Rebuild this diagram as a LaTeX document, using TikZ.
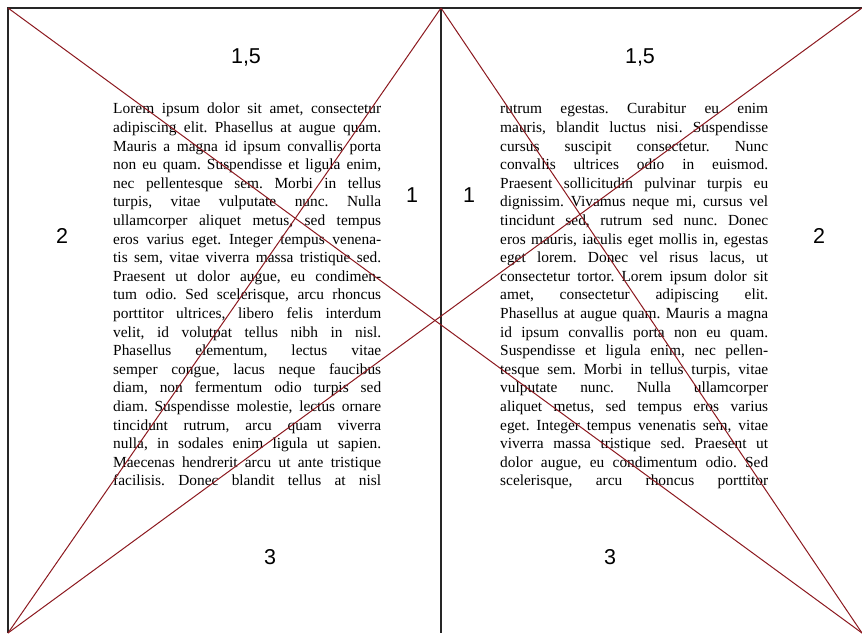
\documentclass[tikz,border=0pt]{standalone}
\usepackage{fontspec}
\setmainfont{Liberation Serif}
\setsansfont{Liberation Sans}
\usetikzlibrary{calc}
\definecolor{darkred}{rgb}{0.55,0.1,0.12}
\newcommand{\jline}[1]{\makebox[268pt][s]{#1}}
\frenchspacing
\begin{document}
\begin{tikzpicture}[x=1pt,y=-1pt,
    frame/.style={line width=1.5pt, draw=black!85},
    diag/.style={line width=1pt, draw=darkred},
    textblock/.style={inner sep=0pt, align=left, anchor=north west,
      font=\fontsize{15.4}{18.6}\selectfont},
    marginnum/.style={inner sep=0pt, font=\sffamily\fontsize{21.5}{21.5}\selectfont}]
    \useasboundingbox (0,0) rectangle (862,633);
    % Define points
    \coordinate (TL) at (8,8);
    \coordinate (TS) at (441,8);
    \coordinate (TR) at (862,8);
    \coordinate (BL) at (8,633);
    \coordinate (BS) at (441,633);
    \coordinate (BR) at (862,633);
    % Pages
    \draw[frame] (BL) -- (TL) -- (TR);
    \draw[frame] (TS) -- (BS);
    % Text blocks
    \node[textblock] (leftblock) at (113,103) {%
      \jline{Lorem ipsum dolor sit amet, consectetur}\\
      \jline{adipiscing elit. Phasellus at augue quam.}\\
      \jline{Mauris a magna id ipsum convallis porta}\\
      \jline{non eu quam. Suspendisse et ligula enim,}\\
      \jline{nec pellentesque sem. Morbi in tellus}\\
      \jline{turpis, vitae vulputate nunc. Nulla}\\
      \jline{ullamcorper aliquet metus, sed tempus}\\
      \jline{eros varius eget. Integer tempus venena-}\\
      \jline{tis sem, vitae viverra massa tristique sed.}\\
      \jline{Praesent ut dolor augue, eu condimen-}\\
      \jline{tum odio. Sed scelerisque, arcu rhoncus}\\
      \jline{porttitor ultrices, libero felis interdum}\\
      \jline{velit, id volutpat tellus nibh in nisl.}\\
      \jline{Phasellus elementum, lectus vitae}\\
      \jline{semper congue, lacus neque faucibus}\\
      \jline{diam, non fermentum odio turpis sed}\\
      \jline{diam. Suspendisse molestie, lectus ornare}\\
      \jline{tincidunt rutrum, arcu quam viverra}\\
      \jline{nulla, in sodales enim ligula ut sapien.}\\
      \jline{Maecenas hendrerit arcu ut ante tristique}\\
      \jline{facilisis. Donec blandit tellus at nisl}};
    \node[textblock] (rightblock) at (500,103) {%
      \jline{rutrum egestas. Curabitur eu enim}\\
      \jline{mauris, blandit luctus nisi. Suspendisse}\\
      \jline{cursus suscipit consectetur. Nunc}\\
      \jline{convallis ultrices odio in euismod.}\\
      \jline{Praesent sollicitudin pulvinar turpis eu}\\
      \jline{dignissim. Vivamus neque mi, cursus vel}\\
      \jline{tincidunt sed, rutrum sed nunc. Donec}\\
      \jline{eros mauris, iaculis eget mollis in, egestas}\\
      \jline{eget lorem. Donec vel risus lacus, ut}\\
      \jline{consectetur tortor. Lorem ipsum dolor sit}\\
      \jline{amet, consectetur adipiscing elit.}\\
      \jline{Phasellus at augue quam. Mauris a magna}\\
      \jline{id ipsum convallis porta non eu quam.}\\
      \jline{Suspendisse et ligula enim, nec pellen-}\\
      \jline{tesque sem. Morbi in tellus turpis, vitae}\\
      \jline{vulputate nunc. Nulla ullamcorper}\\
      \jline{aliquet metus, sed tempus eros varius}\\
      \jline{eget. Integer tempus venenatis sem, vitae}\\
      \jline{viverra massa tristique sed. Praesent ut}\\
      \jline{dolor augue, eu condimentum odio. Sed}\\
      \jline{scelerisque, arcu rhoncus porttitor}};
    % Margin ratios
    \node[marginnum] (topL) at (246,57) {1,5};
    \node[marginnum] (topR) at (640,57) {1,5};
    \node[marginnum] (innerL) at (412,195) {1};
    \node[marginnum] (innerR) at (469,195) {1};
    \node[marginnum] (outerL) at (62,236) {2};
    \node[marginnum] (outerR) at (819,236) {2};
    \node[marginnum] (bottomL) at (270,557) {3};
    \node[marginnum] (bottomR) at (610,557) {3};
    % Diagonals
    \draw[diag] (TL) -- (BR);
    \draw[diag] (BL) -- (TR);
    \draw[diag] (TS) -- (BL);
    \draw[diag] (TS) -- (BR);
\end{tikzpicture}
\end{document}
